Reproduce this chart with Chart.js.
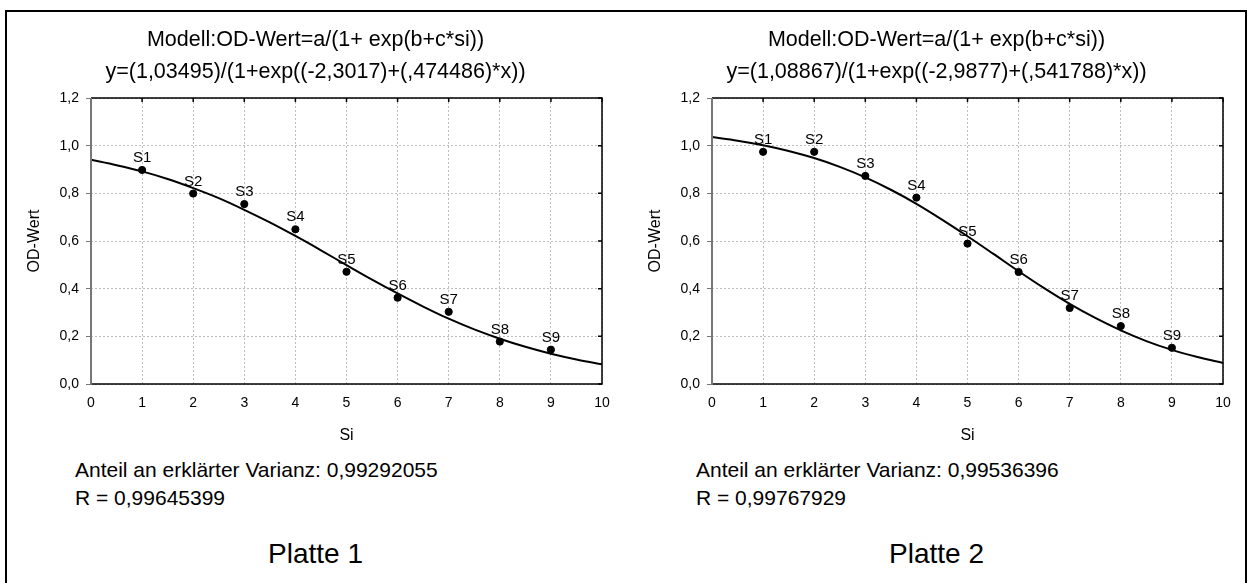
<!DOCTYPE html>
<html>
<head>
<meta charset="utf-8">
<script src="https://cdn.jsdelivr.net/npm/chart.js@4/dist/chart.umd.min.js"></script>
<style>
  body { margin: 0; background: #fff; font-family: "Liberation Sans", Arial, sans-serif; }
  #frame { position: absolute; left: 5px; top: 10px; width: 1242px; height: 600px; border: 2px solid #000; box-sizing: border-box; }
  canvas { position: absolute; top: 10px; }
  .stat { position: absolute; font-size: 21px; line-height: 28px; color: #000; white-space: nowrap; }
  .plate { position: absolute; width: 621px; text-align: center; font-size: 28px; top: 538px; color: #000; }
</style>
</head>
<body>
<div id="frame"></div>
<canvas id="c1" width="621" height="440" style="left:5px"></canvas>
<canvas id="c2" width="621" height="440" style="left:626px"></canvas>
<div class="stat" id="s1" style="left:75px; top:456px"></div>
<div class="stat" id="s2" style="left:696px; top:456px"></div>
<div class="plate" id="p1" style="left:5px"></div>
<div class="plate" id="p2" style="left:626px"></div>
<script>
// measured points S1..S9
let si_values = [1, 2, 3, 4, 5, 6, 7, 8, 9];
let point_labels = ["S1", "S2", "S3", "S4", "S5", "S6", "S7", "S8", "S9"];
let plate1_od = [0.898, 0.799, 0.755, 0.649, 0.471, 0.362, 0.303, 0.178, 0.144];
let plate2_od = [0.974, 0.974, 0.873, 0.782, 0.589, 0.470, 0.319, 0.243, 0.152];

// fitted curves, every 0.5
let curve_si = [0, 0.5, 1, 1.5, 2, 2.5, 3, 3.5, 4, 4.5, 5, 5.5, 6, 6.5, 7, 7.5, 8, 8.5, 9, 9.5, 10];
let plate1_curve = [0.941, 0.918, 0.892, 0.860, 0.822, 0.780, 0.731, 0.678, 0.621, 0.561, 0.499,
  0.438, 0.380, 0.325, 0.274, 0.229, 0.190, 0.156, 0.127, 0.103, 0.083];
let plate2_curve = [1.036, 1.021, 1.002, 0.978, 0.948, 0.911, 0.867, 0.815, 0.756, 0.690, 0.620,
  0.547, 0.473, 0.402, 0.336, 0.277, 0.225, 0.180, 0.143, 0.113, 0.088];

let plate1_title = ["Modell:OD-Wert=a/(1+ exp(b+c*si))", "y=(1,03495)/(1+exp((-2,3017)+(,474486)*x))"];
let plate2_title = ["Modell:OD-Wert=a/(1+ exp(b+c*si))", "y=(1,08867)/(1+exp((-2,9877)+(,541788)*x))"];
let plate1_stats = ["Anteil an erklärter Varianz: 0,99292055", "R = 0,99645399"];
let plate2_stats = ["Anteil an erklärter Varianz: 0,99536396", "R = 0,99767929"];
let plate_names = ["Platte 1", "Platte 2"];

const FONT = "'Liberation Sans', Arial, sans-serif";

// point labels, inner ticks on top/right and the box round the plot
const decorations = {
  id: "decorations",
  afterDatasetsDraw(chart) {
    const ctx = chart.ctx;
    const meta = chart.getDatasetMeta(0);
    ctx.save();
    ctx.font = "15px " + FONT;
    ctx.fillStyle = "#000";
    ctx.textAlign = "center";
    ctx.textBaseline = "middle";
    meta.data.forEach((el, i) => {
      ctx.fillText(point_labels[i], el.x, el.y - 12);
    });
    ctx.restore();
  },
  afterDraw(chart) {
    const ctx = chart.ctx;
    const a = chart.chartArea;
    const xs = chart.scales.x;
    const ys = chart.scales.y;
    ctx.save();
    ctx.strokeStyle = "#000";
    ctx.lineWidth = 1.5;
    ctx.beginPath();
    xs.ticks.forEach((t) => {
      let px = xs.getPixelForValue(t.value);
      ctx.moveTo(px, a.top);
      ctx.lineTo(px, a.top + 4);
    });
    ys.ticks.forEach((t) => {
      let py = ys.getPixelForValue(t.value);
      ctx.moveTo(a.right, py);
      ctx.lineTo(a.right - 4, py);
    });
    ctx.stroke();
    ctx.beginPath();
    ctx.moveTo(a.left, a.top);
    ctx.lineTo(a.right, a.top);
    ctx.lineTo(a.right, a.bottom);
    ctx.lineTo(a.left, a.bottom);
    ctx.stroke();
    ctx.strokeStyle = "#777";
    ctx.lineWidth = 2;
    ctx.beginPath();
    ctx.moveTo(a.left, a.top);
    ctx.lineTo(a.left, a.bottom + 1);
    ctx.stroke();
    ctx.restore();
  },
};

let make_chart = (canvas_id, od_values, curve_values, title) => {
  const ctx = document.getElementById(canvas_id).getContext("2d");
  let points = si_values.map((x, i) => ({ x: x, y: od_values[i] }));
  let curve = curve_si.map((x, i) => ({ x: x, y: curve_values[i] }));

  return new Chart(ctx, {
    type: "scatter",
    data: {
      datasets: [
        {
          data: points,
          pointRadius: 3.6,
          pointBackgroundColor: "#000",
          pointBorderColor: "#000",
          pointBorderWidth: 1,
        },
        {
          data: curve,
          showLine: true,
          pointRadius: 0,
          borderColor: "#000",
          borderWidth: 2,
          cubicInterpolationMode: "monotone",
        },
      ],
    },
    options: {
      responsive: false,
      animation: false,
      devicePixelRatio: 1,
      layout: { padding: { left: 24, right: 24, top: 0, bottom: 0 } },
      plugins: {
        legend: { display: false },
        tooltip: { enabled: false },
        title: {
          display: true,
          text: title,
          color: "#000",
          font: { family: FONT, size: 21.5, weight: "normal", lineHeight: 32 / 21.5 },
          padding: { top: 14, bottom: 10 },
        },
      },
      scales: {
        x: {
          type: "linear",
          min: 0,
          max: 10,
          ticks: {
            stepSize: 1,
            color: "#000",
            padding: 11,
            font: { family: FONT, size: 14 },
          },
          grid: { color: "#bdbdbd", lineWidth: 1, drawTicks: false },
          border: { display: false, dash: [2, 2] },
          title: {
            display: true,
            text: "Si",
            color: "#000",
            font: { family: FONT, size: 16 },
            padding: { top: 0, bottom: 5 },
          },
          afterFit: (scale) => {
            scale.height = 66;
          },
        },
        y: {
          min: 0,
          max: 1.2,
          ticks: {
            stepSize: 0.2,
            color: "#000",
            padding: 7,
            font: { family: FONT, size: 14 },
            callback: (v) => v.toFixed(1).replace(".", ","),
          },
          grid: { color: "#bdbdbd", lineWidth: 1, drawTicks: true, tickLength: 5, tickColor: "#777" },
          border: { display: false, dash: [2, 2] },
          title: {
            display: true,
            text: "OD-Wert",
            color: "#000",
            font: { family: FONT, size: 16, lineHeight: 1 },
            padding: { top: -2, bottom: 0 },
          },
          afterFit: (scale) => {
            scale.width = 62;
          },
        },
      },
    },
    plugins: [decorations],
  });
};

make_chart("c1", plate1_od, plate1_curve, plate1_title);
make_chart("c2", plate2_od, plate2_curve, plate2_title);

document.getElementById("s1").innerHTML = plate1_stats.join("<br>");
document.getElementById("s2").innerHTML = plate2_stats.join("<br>");
document.getElementById("p1").textContent = plate_names[0];
document.getElementById("p2").textContent = plate_names[1];
</script>
</body>
</html>
